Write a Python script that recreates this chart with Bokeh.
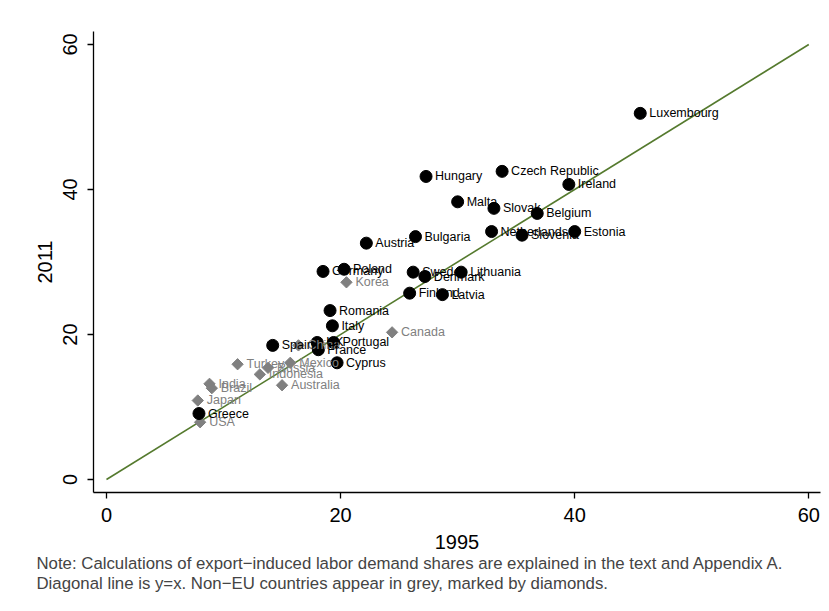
from bokeh.plotting import figure
from bokeh.models import ColumnDataSource, LabelSet, Range1d, FixedTicker, Title
from bokeh.core.properties import value
from bokeh.embed import file_html
from bokeh.resources import INLINE
import math

# EU countries (black circles)
eu_names = ["Luxembourg", "Czech Republic", "Hungary", "Ireland", "Malta", "Slovak",
            "Belgium", "Estonia", "Netherlands", "Slovenia", "Bulgaria", "Austria",
            "Poland", "Germany", "Sweden", "Lithuania", "Denmark", "Finland", "Latvia",
            "Romania", "Italy", "Spain", "UK", "Portugal", "France", "Cyprus", "Greece"]
eu_1995 = [45.6, 33.8, 27.3, 39.5, 30.0, 33.1, 36.8, 40.0, 32.9, 35.5, 26.4, 22.2,
           20.3, 18.5, 26.2, 30.3, 27.2, 25.9, 28.7, 19.1, 19.3, 14.2, 18.0, 19.4,
           18.1, 19.7, 7.9]
eu_2011 = [50.5, 42.5, 41.8, 40.7, 38.3, 37.4, 36.7, 34.2, 34.2, 33.7, 33.5, 32.6,
           29.0, 28.7, 28.6, 28.6, 28.0, 25.7, 25.5, 23.3, 21.2, 18.5, 18.9, 18.9,
           17.9, 16.1, 9.1]

# Non-EU countries (grey diamonds)
non_names = ["Korea", "Canada", "China", "Turkey", "Mexico", "Russia", "Indonesia",
             "Australia", "India", "Brazil", "Japan", "USA"]
non_1995 = [20.5, 24.4, 16.4, 11.2, 15.7, 13.8, 13.1, 15.0, 8.8, 9.0, 7.8, 8.0]
non_2011 = [27.2, 20.3, 18.5, 15.9, 16.1, 15.4, 14.5, 13.0, 13.2, 12.6, 10.9, 7.9]

diag_x = [0, 60]
diag_y = [0, 60]
ticks = [0, 20, 40, 60]

p = figure(width=822, height=603, output_backend="svg", toolbar_location=None,
           x_range=Range1d(-1.11, 61.0), y_range=Range1d(-1.79, 61.79),
           min_border_left=93, min_border_top=31, min_border_right=2,
           min_border_bottom=111)
p.outline_line_color = None
p.xgrid.visible = False
p.ygrid.visible = False
p.background_fill_color = "white"
p.border_fill_color = "white"

p.line(diag_x, diag_y, line_color="#557a2e", line_width=1.6)

src_non = ColumnDataSource(dict(x=non_1995, y=non_2011, name=non_names))
src_eu = ColumnDataSource(dict(x=eu_1995, y=eu_2011, name=eu_names))

p.scatter("x", "y", source=src_non, marker="square", size=8, angle=math.pi / 4,
          fill_color="#808080", line_color="#808080")
p.scatter("x", "y", source=src_eu, marker="circle", size=12,
          fill_color="black", line_color="black")

lab_font = value("Liberation Sans")
p.add_layout(LabelSet(x="x", y="y", text="name", source=src_non, x_offset=9,
                      text_baseline="middle", text_font_size=value("12.5px"),
                      text_font=lab_font, text_color=value("#808080")))
p.add_layout(LabelSet(x="x", y="y", text="name", source=src_eu, x_offset=9,
                      text_baseline="middle", text_font_size=value("12.5px"),
                      text_font=lab_font, text_color=value("black")))

for ax in (p.xaxis[0], p.yaxis[0]):
    ax.ticker = FixedTicker(ticks=ticks)
    ax.minor_tick_line_color = None
    ax.major_tick_out = 6
    ax.major_tick_in = 0
    ax.axis_line_width = 1.3
    ax.major_tick_line_width = 1.3
    ax.axis_line_color = "black"
    ax.major_tick_line_color = "black"
    ax.major_label_text_font = "Liberation Sans"
    ax.major_label_text_font_size = "20px"
    ax.major_label_text_color = "black"
    ax.axis_label_text_font = "Liberation Sans"
    ax.axis_label_text_font_size = "20px"
    ax.axis_label_text_font_style = "normal"
    ax.axis_label_text_color = "black"

p.xaxis.axis_label = "1995"
p.yaxis.axis_label = "2011"
p.yaxis.major_label_orientation = "vertical"
p.xaxis.major_label_standoff = 9
p.xaxis.axis_label_standoff = 10
p.yaxis.major_label_standoff = 10
p.yaxis.axis_label_standoff = 9

note1 = "Note: Calculations of export\u2212induced labor demand shares are explained in the text and Appendix A."
note2 = "Diagonal line is y=x. Non\u2212EU countries appear in grey, marked by diamonds."
p.add_layout(Title(text=note1, align="left", text_font="Liberation Sans",
                   text_font_size="16.8px", text_font_style="normal",
                   offset=-57, standoff=0), "below")
p.add_layout(Title(text=note2, align="left", text_font="Liberation Sans",
                   text_font_size="16.8px", text_font_style="normal",
                   offset=-57, standoff=-2), "below")

open("out.html", "w").write(file_html(p, INLINE))
